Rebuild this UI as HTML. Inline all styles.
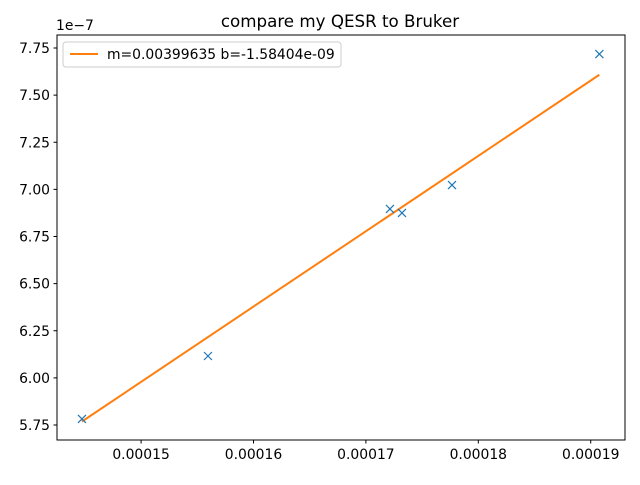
<!DOCTYPE html>
<html><head><meta charset="utf-8"><style>
body{margin:0;background:#fff;}
svg text{font-family:"DejaVu Sans","Liberation Sans",sans-serif;}
</style></head><body>
<svg id="chart" width="640" height="480" xmlns="http://www.w3.org/2000/svg">
<rect width="640" height="480" fill="#fff"/>
<text x="340" y="27" font-size="16.7" text-anchor="middle">compare my QESR to Bruker</text>
<text x="56" y="30" font-size="13.9">1e−7</text>
<g id="ticks"></g>
<g id="marks"></g>
<rect x="57" y="35" width="568" height="405" fill="none" stroke="#000" stroke-width="1"/>
<g>
<rect x="63" y="42" width="278" height="25" rx="3" fill="#fff" fill-opacity="0.8" stroke="#ccc"/>
<line x1="70" y1="54" x2="98" y2="54" stroke="#ff7f0e" stroke-width="2"/>
<text x="107" y="59" font-size="13.9">m=0.00399635 b=-1.58404e-09</text>
</g>
</svg>
<script>
const xVals=[0.00014474,0.00015595,0.00017214,0.00017321,0.00017766,0.00019077];
const yVals=[5.782e-7,6.116e-7,6.896e-7,6.875e-7,7.023e-7,7.718e-7];
const slope=[0.00399635];
const intercept=[-1.58404e-09];
const xTicks=[0.00015,0.00016,0.00017,0.00018,0.00019];
const xTickLabels=["0.00015","0.00016","0.00017","0.00018","0.00019"];
const yTicks=[5.75,6.0,6.25,6.5,6.75,7.0,7.25,7.5,7.75];
const yTickLabels=["5.75","6.00","6.25","6.50","6.75","7.00","7.25","7.50","7.75"];
const NS="http://www.w3.org/2000/svg";
const X0=57,X1=625,xmin=0.00014252,xmax=0.00019305;
const sx=v=>X0+(v-xmin)/(xmax-xmin)*(X1-X0);
const sy=v=>425-(v*1e7-5.75)/2.0*377;
function el(t,a,p){const e=document.createElementNS(NS,t);for(const k in a)e.setAttribute(k,a[k]);p.appendChild(e);return e;}
const tg=document.getElementById('ticks'),mg=document.getElementById('marks');
xTicks.forEach((v,i)=>{const x=sx(v);
const l=el('line',{x1:x,x2:x,y1:440,y2:443.5,stroke:'#000'},tg);


const t=el('text',{x:x,y:459,'font-size':13.9,'text-anchor':'middle'},tg);t.textContent=xTickLabels[i];

});
yTicks.forEach((v,i)=>{const y=sy(v*1e-7);
const l=el('line',{x1:53.5,x2:57,y1:y,y2:y,stroke:'#000'},tg);


const t=el('text',{x:50,y:y+5,'font-size':13.9,'text-anchor':'end'},tg);t.textContent=yTickLabels[i];

});
const xa=Math.min(...xVals),xb=Math.max(...xVals);
const fl=el('line',{x1:sx(xa),y1:sy(slope[0]*xa+intercept[0]),x2:sx(xb),y2:sy(slope[0]*xb+intercept[0]),stroke:'#ff7f0e','stroke-width':2},mg);


xVals.forEach((v,i)=>{const x=sx(v),y=sy(yVals[i]),d=4;
const p=el('path',{d:`M${x-d},${y-d}L${x+d},${y+d}M${x-d},${y+d}L${x+d},${y-d}`,stroke:'#1f77b4','stroke-width':1.2,fill:'none'},mg);

});
</script>
</body></html>
